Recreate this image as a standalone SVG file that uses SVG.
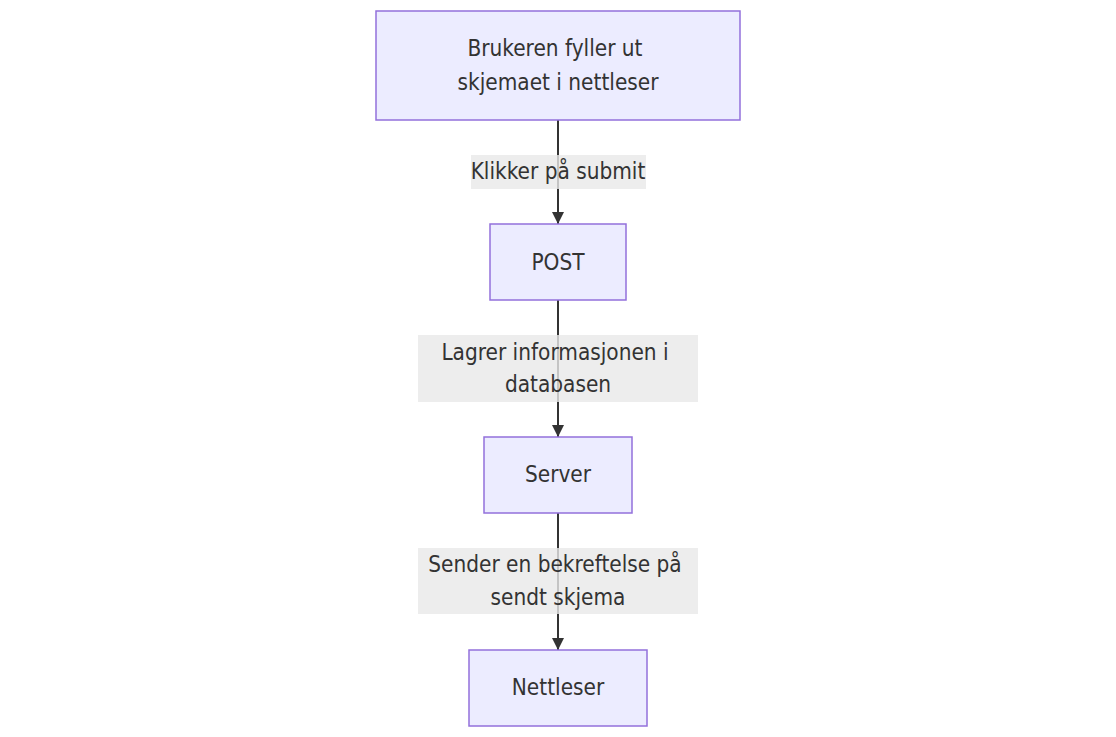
<svg xmlns="http://www.w3.org/2000/svg" width="1116" height="737" viewBox="0 0 1116 737">
<style>
.node rect{fill:#ECECFF;stroke:#9370DB;stroke-width:1.5px;}
text{font-family:"DejaVu Sans Condensed","DejaVu Sans",sans-serif;font-stretch:condensed;font-size:22.4px;fill:#333;text-anchor:middle;dominant-baseline:central;}
.edge{stroke:#333;stroke-width:2px;fill:none;}
.lbl rect{fill:rgba(232,232,232,0.8);}
</style>
<defs>
<marker id="arrow" viewBox="0 0 10 10" refX="10" refY="5" markerUnits="userSpaceOnUse" markerWidth="12" markerHeight="12" orient="auto">
<path d="M0,0 L10,5 L0,10 z" fill="#333"/>
</marker>
</defs>
<rect width="1116" height="737" fill="#fff"/>
<g id="connectors">
<line class="edge" x1="558" y1="120" x2="558" y2="224" marker-end="url(#arrow)"/>
<line class="edge" x1="558" y1="300" x2="558" y2="437" marker-end="url(#arrow)"/>
<line class="edge" x1="558" y1="513" x2="558" y2="650" marker-end="url(#arrow)"/>
</g>
<g id="edge-labels">
<g class="lbl" id="label1"><rect x="471" y="155" width="175" height="34"/><text x="558" y="171">Klikker på submit</text></g>
<g class="lbl" id="label2"><rect x="418" y="335" width="280" height="67"/><text x="555" y="352">Lagrer informasjonen i</text><text x="558" y="384">databasen</text></g>
<g class="lbl" id="label3"><rect x="418" y="548" width="280" height="66"/><text x="555" y="564">Sender en bekreftelse på</text><text x="558" y="597">sendt skjema</text></g>
</g>
<g class="node" id="node1"><rect x="376" y="11" width="364" height="109"/><text x="555" y="48">Brukeren fyller ut</text><text x="558" y="82">skjemaet i nettleser</text></g>
<g class="node" id="node2"><rect x="490" y="224" width="136" height="76"/><text x="558" y="262">POST</text></g>
<g class="node" id="node3"><rect x="484" y="437" width="148" height="76"/><text x="558" y="474">Server</text></g>
<g class="node" id="node4"><rect x="469" y="650" width="178" height="76"/><text x="558" y="687">Nettleser</text></g>
</svg>
